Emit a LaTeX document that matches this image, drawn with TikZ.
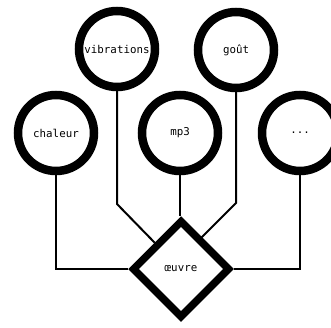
\documentclass[tikz,border=0pt]{standalone}
\usepackage{fontspec}
\setmonofont{DejaVu Sans Mono}
\usetikzlibrary{shapes.geometric,positioning,calc}

\begin{document}
\begin{tikzpicture}[
  x=1pt, y=1pt,
  sense/.style={circle, draw, line width=8.5pt, minimum size=76pt,
                inner sep=0pt, font=\ttfamily\fontsize{10.8}{12}\selectfont},
  work/.style={diamond, draw, line width=7.5pt, minimum width=98pt,
               minimum height=98pt, inner sep=0pt,
               font=\ttfamily\fontsize{10.8}{12}\selectfont},
  link/.style={line width=2pt}
]
  \useasboundingbox (0,0) rectangle (331,327);

  % Senses
  \node[sense] (chaleur) at (56,194) {chaleur};
  \node[sense] (vib) at (117,278) {vibrations};
  \node[sense] (gout) at (236,277) {goût};
  \node[sense] (mp3) at (180,194) {mp3};
  \node[sense] (etc) at (300,194) {...};

  % Work
  \node[work] (oeuvre) at (181,58) {œuvre};

  % Bends
  \coordinate (vibbend) at (117,123);
  \coordinate (goutbend) at (236,124);
  \coordinate (goutend) at ($(goutbend)+(-37,-37)$);

  % Links
  \draw[link] (chaleur.south) |- (oeuvre.west);
  \draw[link] (vib.south) -- (vibbend) -- (oeuvre.north west);
  \draw[link] (mp3.south) -- (mp3.south |- oeuvre.north);
  \draw[link] (gout.south) -- (goutbend) -- (goutend);
  \draw[link] (etc.south) |- (oeuvre.east);
\end{tikzpicture}
\end{document}
